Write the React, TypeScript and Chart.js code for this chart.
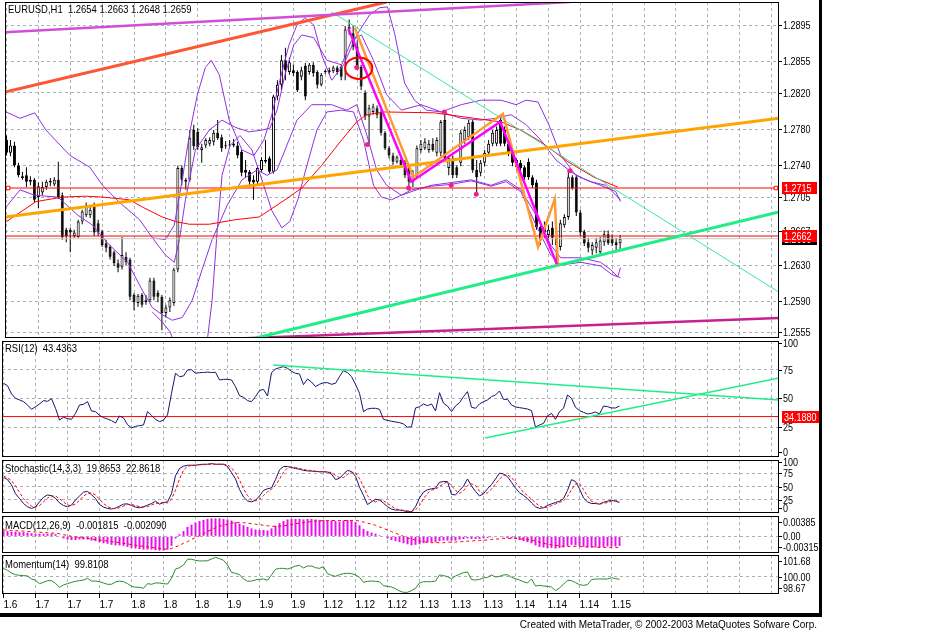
import React, { useEffect, useRef } from 'react';
import { Chart, registerables } from 'chart.js';

Chart.register(...registerables);

const FONT = '"Liberation Sans", Arial, sans-serif';
Chart.defaults.font.family = FONT;
Chart.defaults.font.size = 10;
Chart.defaults.color = '#000';

// ---------------- data ----------------
const X_LABELS = ['1.6', '1.7', '1.7', '1.7', '1.8', '1.8', '1.8', '1.9', '1.9', '1.9', '1.12', '1.12', '1.12', '1.13', '1.13', '1.13', '1.14', '1.14', '1.14', '1.15'];
const X_GRID_BARS = [0, 8, 16, 24, 32, 40, 48, 56, 64, 72, 80, 88, 96, 104, 112, 120, 128, 136, 144, 152, 160, 168, 176, 184, 192];

const OPEN = [1.2768, 1.2754, 1.2762, 1.2740, 1.2726, 1.2729, 1.2722, 1.2724, 1.2705, 1.2710,
  1.2716, 1.2721, 1.2719, 1.2724, 1.2707, 1.2669, 1.2669, 1.2662, 1.2661, 1.2678,
  1.2685, 1.2685, 1.2696, 1.2676, 1.2667, 1.2654, 1.2650, 1.2644, 1.2632, 1.2628,
  1.2639, 1.2636, 1.2597, 1.2588, 1.2597, 1.2591, 1.2591, 1.2613, 1.2599, 1.2595,
  1.2577, 1.2583, 1.2588, 1.2625, 1.2737, 1.2722, 1.2724, 1.2779, 1.2777, 1.2757,
  1.2762, 1.2764, 1.2766, 1.2776, 1.2771, 1.2762, 1.2762, 1.2762, 1.2762, 1.2755,
  1.2735, 1.2733, 1.2724, 1.2722, 1.2735, 1.2744, 1.2748, 1.2733, 1.2816, 1.2829,
  1.2856, 1.2843, 1.2845, 1.2843, 1.2838, 1.2850, 1.2843, 1.2851, 1.2843, 1.2829,
  1.2843, 1.2843, 1.2844, 1.2848, 1.2849, 1.2860, 1.2890, 1.2886, 1.2871, 1.2849,
  1.2820, 1.2794, 1.2799, 1.2803, 1.2799, 1.2776, 1.2759, 1.2751, 1.2744, 1.2746,
  1.2743, 1.2738, 1.2722, 1.2729, 1.2757, 1.2759, 1.2757, 1.2764, 1.2754, 1.2754,
  1.2790, 1.2737, 1.2748, 1.2738, 1.2743, 1.2768, 1.2771, 1.2788, 1.2735, 1.2732,
  1.2743, 1.2754, 1.2764, 1.2764, 1.2790, 1.2779, 1.2764, 1.2754, 1.2746, 1.2743,
  1.2738, 1.2744, 1.2727, 1.2721, 1.2672, 1.2672, 1.2663, 1.2671, 1.2660, 1.2650,
  1.2674, 1.2683, 1.2727, 1.2727, 1.2688, 1.2667, 1.2655, 1.2646, 1.2649, 1.2644,
  1.2655, 1.2664, 1.2660, 1.2655, 1.2654];
const HIGH = [1.2773, 1.2768, 1.2766, 1.2743, 1.2733, 1.2738, 1.2728, 1.2726, 1.2721, 1.2722,
  1.2724, 1.2726, 1.2727, 1.2744, 1.2710, 1.2671, 1.2671, 1.2669, 1.2680, 1.2691,
  1.2699, 1.2696, 1.2699, 1.2680, 1.2669, 1.2658, 1.2652, 1.2646, 1.2636, 1.2661,
  1.2644, 1.2638, 1.2599, 1.2598, 1.2599, 1.2597, 1.2616, 1.2616, 1.2602, 1.2597,
  1.2586, 1.2594, 1.2627, 1.2740, 1.2740, 1.2726, 1.2779, 1.2785, 1.2781, 1.2764,
  1.2770, 1.2771, 1.2779, 1.2790, 1.2774, 1.2767, 1.2768, 1.2769, 1.2766, 1.2757,
  1.2746, 1.2735, 1.2729, 1.2740, 1.2749, 1.2768, 1.2750, 1.2818, 1.2834, 1.2862,
  1.2870, 1.2859, 1.2851, 1.2845, 1.2849, 1.2853, 1.2853, 1.2854, 1.2845, 1.2842,
  1.2846, 1.2848, 1.2850, 1.2850, 1.2851, 1.2894, 1.2901, 1.2895, 1.2878, 1.2851,
  1.2823, 1.2807, 1.2808, 1.2806, 1.2801, 1.2778, 1.2761, 1.2754, 1.2751, 1.2748,
  1.2746, 1.2740, 1.2735, 1.2762, 1.2768, 1.2770, 1.2768, 1.2770, 1.2771, 1.2790,
  1.2800, 1.2751, 1.2751, 1.2740, 1.2779, 1.2783, 1.2790, 1.2790, 1.2746, 1.2746,
  1.2757, 1.2768, 1.2779, 1.2783, 1.2796, 1.2783, 1.2768, 1.2757, 1.2748, 1.2746,
  1.2740, 1.2748, 1.2729, 1.2724, 1.2674, 1.2678, 1.2674, 1.2678, 1.2669, 1.2680,
  1.2686, 1.2735, 1.2729, 1.2729, 1.2691, 1.2669, 1.2660, 1.2655, 1.2660, 1.2661,
  1.2668, 1.2668, 1.2664, 1.2660, 1.2663];
const LOW = [1.2751, 1.2750, 1.2738, 1.2727, 1.2724, 1.2716, 1.2718, 1.2699, 1.2693, 1.2707,
  1.2713, 1.2717, 1.2717, 1.2703, 1.2658, 1.2655, 1.2644, 1.2660, 1.2660, 1.2675,
  1.2683, 1.2682, 1.2662, 1.2662, 1.2650, 1.2644, 1.2636, 1.2629, 1.2622, 1.2625,
  1.2630, 1.2591, 1.2580, 1.2584, 1.2583, 1.2586, 1.2589, 1.2591, 1.2589, 1.2558,
  1.2572, 1.2578, 1.2585, 1.2622, 1.2718, 1.2713, 1.2722, 1.2757, 1.2757, 1.2743,
  1.2759, 1.2761, 1.2762, 1.2768, 1.2755, 1.2758, 1.2760, 1.2760, 1.2748, 1.2728,
  1.2727, 1.2718, 1.2702, 1.2719, 1.2733, 1.2742, 1.2731, 1.2731, 1.2812, 1.2823,
  1.2834, 1.2840, 1.2839, 1.2821, 1.2834, 1.2812, 1.2840, 1.2838, 1.2825, 1.2827,
  1.2841, 1.2841, 1.2842, 1.2840, 1.2834, 1.2834, 1.2884, 1.2867, 1.2845, 1.2823,
  1.2790, 1.2762, 1.2796, 1.2792, 1.2773, 1.2757, 1.2748, 1.2740, 1.2742, 1.2737,
  1.2726, 1.2716, 1.2716, 1.2726, 1.2754, 1.2757, 1.2754, 1.2755, 1.2750, 1.2750,
  1.2746, 1.2729, 1.2726, 1.2726, 1.2739, 1.2764, 1.2768, 1.2732, 1.2707, 1.2728,
  1.2739, 1.2750, 1.2761, 1.2761, 1.2761, 1.2761, 1.2750, 1.2739, 1.2735, 1.2733,
  1.2724, 1.2724, 1.2715, 1.2669, 1.2652, 1.2660, 1.2654, 1.2652, 1.2630, 1.2646,
  1.2671, 1.2680, 1.2713, 1.2684, 1.2662, 1.2651, 1.2644, 1.2641, 1.2643, 1.2642,
  1.2651, 1.2652, 1.2651, 1.2644, 1.2648];
const CLOSE = [1.2754, 1.2762, 1.2740, 1.2729, 1.2728, 1.2722, 1.2724, 1.2702, 1.2717, 1.2716,
  1.2722, 1.2723, 1.2724, 1.2705, 1.2661, 1.2662, 1.2666, 1.2666, 1.2678, 1.2689,
  1.2696, 1.2691, 1.2666, 1.2666, 1.2652, 1.2649, 1.2639, 1.2632, 1.2627, 1.2641,
  1.2633, 1.2595, 1.2589, 1.2596, 1.2586, 1.2589, 1.2613, 1.2595, 1.2595, 1.2577,
  1.2583, 1.2591, 1.2625, 1.2737, 1.2724, 1.2724, 1.2770, 1.2761, 1.2760, 1.2760,
  1.2768, 1.2768, 1.2776, 1.2770, 1.2759, 1.2761, 1.2763, 1.2764, 1.2751, 1.2732,
  1.2732, 1.2722, 1.2721, 1.2737, 1.2746, 1.2746, 1.2733, 1.2816, 1.2829, 1.2856,
  1.2845, 1.2854, 1.2842, 1.2823, 1.2845, 1.2816, 1.2851, 1.2842, 1.2829, 1.2840,
  1.2844, 1.2845, 1.2848, 1.2843, 1.2838, 1.2890, 1.2893, 1.2871, 1.2849, 1.2827,
  1.2794, 1.2803, 1.2805, 1.2796, 1.2776, 1.2759, 1.2751, 1.2744, 1.2749, 1.2739,
  1.2729, 1.2722, 1.2729, 1.2759, 1.2764, 1.2766, 1.2764, 1.2757, 1.2768, 1.2788,
  1.2748, 1.2748, 1.2729, 1.2729, 1.2776, 1.2779, 1.2787, 1.2735, 1.2727, 1.2743,
  1.2754, 1.2764, 1.2776, 1.2779, 1.2764, 1.2764, 1.2754, 1.2743, 1.2738, 1.2737,
  1.2727, 1.2727, 1.2718, 1.2672, 1.2658, 1.2666, 1.2669, 1.2660, 1.2652, 1.2676,
  1.2683, 1.2727, 1.2715, 1.2688, 1.2666, 1.2654, 1.2649, 1.2652, 1.2655, 1.2657,
  1.2664, 1.2654, 1.2654, 1.2652, 1.2659];

const PRICE_TICKS = [1.2895, 1.2855, 1.2820, 1.2780, 1.2740, 1.2705, 1.2667, 1.2630, 1.2590, 1.2555];
const PRICE_LEVELS = [1.2715, 1.2662];
const BID = 1.2659;

// red moving average, read as [bar, price]
const MA_PTS = [[0, 1.2678], [7.4, 1.2700], [14.1, 1.2705], [19.9, 1.2706], [24.1, 1.2705], [30.9, 1.2702], [34.1, 1.2694], [39.1, 1.2683], [42.4, 1.2678], [45.9, 1.2675], [50.9, 1.2675], [57.4, 1.2680], [63.4, 1.2683], [69.9, 1.2702], [74.1, 1.2715], [75.9, 1.2724], [79.1, 1.2740], [84.1, 1.2768], [87.9, 1.2788], [90.4, 1.2796], [94.9, 1.2799], [107.4, 1.2798], [117.4, 1.2792], [124.1, 1.2788], [129.1, 1.2779], [134.1, 1.2766], [140.9, 1.2744], [147.4, 1.2727], [153.4, 1.2716]];

// purple band lines, read as [bar, price]
const BAND_UP = [[-0.1, 1.2799], [3.4, 1.2792], [7.1, 1.2798], [9.9, 1.2779], [15.9, 1.2751], [20.9, 1.2738], [24.1, 1.2718], [28.4, 1.2699], [33.4, 1.2680], [36.6, 1.2660], [39.9, 1.2641], [42.1, 1.2633], [43.4, 1.2658], [44.9, 1.2702], [47.4, 1.2757], [50.9, 1.2779], [54.1, 1.2790], [57.4, 1.2782], [60.9, 1.2777], [64.1, 1.2779], [66.1, 1.2781], [67.9, 1.2801], [69.9, 1.2840], [72.1, 1.2873], [74.1, 1.2884], [77.1, 1.2881], [80.4, 1.2856], [84.1, 1.2851], [86.6, 1.2878], [89.1, 1.2884], [92.1, 1.2856], [95.4, 1.2818], [99.1, 1.2801], [104.1, 1.2807], [109.1, 1.2799], [114.1, 1.2792], [119.1, 1.2790], [122.9, 1.2792], [126.6, 1.2796], [130.4, 1.2785], [134.1, 1.2768], [137.9, 1.2746], [141.6, 1.2733], [145.4, 1.2724], [149.1, 1.2718], [152.9, 1.2711], [154.1, 1.2700]];
const BAND_LOW = [[-0.1, 1.2694], [3.4, 1.2713], [7.1, 1.2707], [12.9, 1.2705], [17.9, 1.2685], [21.6, 1.2674], [25.4, 1.2654], [30.4, 1.2633], [34.1, 1.2602], [36.6, 1.2583], [39.1, 1.2575], [41.6, 1.2569], [44.1, 1.2572], [46.6, 1.2591], [49.1, 1.2625], [51.6, 1.2658], [55.4, 1.2696], [59.1, 1.2724], [62.9, 1.2735], [65.4, 1.2729], [67.9, 1.2735], [69.9, 1.2757], [72.9, 1.2790], [76.6, 1.2807], [81.6, 1.2807], [85.4, 1.2801], [87.9, 1.2807], [90.4, 1.2774], [92.9, 1.2735], [95.4, 1.2718], [99.1, 1.2707], [102.9, 1.2713], [106.6, 1.2718], [111.6, 1.2721], [116.6, 1.2724], [121.6, 1.2718], [125.4, 1.2724], [129.1, 1.2713], [132.9, 1.2685], [136.6, 1.2652], [139.1, 1.2638], [144.1, 1.2638], [149.1, 1.2633], [151.6, 1.2625], [153.4, 1.2617], [154.1, 1.2627]];
const WIDE_UP = [[36.6, 1.2660], [39.9, 1.2658], [42.1, 1.2674], [44.1, 1.2724], [46.1, 1.2779], [47.9, 1.2818], [49.9, 1.2848], [51.4, 1.2856], [53.4, 1.2840], [55.9, 1.2790], [59.1, 1.2757], [62.1, 1.2751], [64.6, 1.2768], [66.6, 1.2796], [68.6, 1.2834], [70.9, 1.2873], [72.9, 1.2895], [74.9, 1.2903], [77.1, 1.2895], [79.1, 1.2862], [81.6, 1.2834], [84.6, 1.2851], [87.9, 1.2884], [91.1, 1.2906], [93.6, 1.2914], [95.6, 1.2915], [97.4, 1.2886], [99.9, 1.2831], [102.4, 1.2812], [105.4, 1.2801], [109.1, 1.2799], [114.1, 1.2807], [119.1, 1.2812], [124.1, 1.2812], [127.9, 1.2807], [130.4, 1.2812], [133.4, 1.2810], [136.1, 1.2785], [139.1, 1.2751], [142.9, 1.2729], [146.6, 1.2722], [150.4, 1.2718], [154.1, 1.2702]];
const WIDE_LOW = [[36.6, 1.2578], [39.1, 1.2567], [41.1, 1.2556], [42.6, 1.2536], [50.1, 1.2536], [51.6, 1.2591], [52.9, 1.2669], [54.1, 1.2729], [56.1, 1.2762], [58.6, 1.2773], [61.6, 1.2757], [64.1, 1.2724], [66.6, 1.2690], [69.1, 1.2671], [71.1, 1.2678], [73.1, 1.2702], [75.4, 1.2740], [77.9, 1.2779], [80.4, 1.2799], [84.1, 1.2801], [87.1, 1.2799], [89.6, 1.2768], [92.1, 1.2718], [94.1, 1.2705], [96.6, 1.2702], [99.1, 1.2707], [101.6, 1.2713], [106.6, 1.2717], [111.6, 1.2719], [116.6, 1.2723], [121.6, 1.2717], [125.4, 1.2722], [129.1, 1.2711], [132.9, 1.2674], [136.6, 1.2641], [139.1, 1.2630], [144.1, 1.2633], [149.1, 1.2629], [152.1, 1.2619], [154.1, 1.2616]];

// drawn objects, [bar, price]
const TL_VIOLET = [[-0.375, 1.2887], [141.4, 1.29204]];
const TL_TOMATO = [[-0.375, 1.2821], [95.4, 1.29204]];
const TL_ORANGE = [[-0.375, 1.2683], [193.875, 1.2792]];
const TL_GREEN = [[62.6, 1.25494], [193.875, 1.26886]];
const TL_AQUA = [[81.6, 1.29094], [193.875, 1.2600]];
const TL_PLUM = [[54.9, 1.25483], [193.875, 1.25715]];
const ZZ_MAGENTA = [[85.8, 1.2891], [101.6, 1.2722], [123.9, 1.2788], [138.1, 1.2631]];
const ZZ_ORANGE = [[87.4, 1.2892], [102.1, 1.2727], [124.6, 1.2797], [133.4, 1.2650], [137.6, 1.2703], [138.4, 1.2630]];
const FRACTALS = [[87.9, 1.2848], [90.6, 1.2763], [100.9, 1.2715], [109.9, 1.2799], [111.6, 1.2718], [117.9, 1.2708], [141.4, 1.2734]];
const LEVEL_MARKS = [[0.4, 1.2715], [193.1, 1.2715]];
const ELLIPSE = { bar: 88.4, price: 1.28473, rBars: 3.4, rPrice: 0.00119 };

const RSI = [63.2, 61.1, 53.9, 50.1, 48.7, 47.2, 44.3, 40.5, 42.8, 45.2,
  48.1, 47.5, 49.8, 41.4, 31.2, 33.6, 32.4, 31.8, 37.0, 44.3,
  44.9, 47.2, 39.1, 38.5, 35.3, 33.3, 32.1, 30.7, 28.6, 34.7,
  33.0, 27.2, 24.3, 25.7, 26.3, 26.9, 38.5, 35.3, 31.8, 29.8,
  31.2, 35.6, 54.5, 71.9, 69.0, 69.5, 74.8, 75.0, 72.0, 72.4,
  72.6, 72.9, 72.6, 72.8, 66.1, 66.6, 66.6, 66.1, 60.3, 52.4,
  51.0, 48.1, 47.2, 51.6, 56.8, 57.9, 52.1, 72.4, 75.6, 76.8,
  77.7, 76.2, 73.6, 71.9, 71.3, 62.0, 66.9, 64.3, 60.3, 62.3,
  63.7, 63.7, 62.3, 63.2, 69.0, 74.2, 72.4, 69.0, 62.3, 54.5,
  38.5, 40.8, 41.4, 41.4, 40.5, 31.8, 30.9, 30.1, 29.5, 28.9,
  27.8, 24.9, 25.4, 41.7, 42.8, 45.2, 43.7, 45.2, 39.1, 55.0,
  45.8, 43.4, 38.5, 43.4, 46.3, 51.6, 55.9, 42.3, 41.4, 45.2,
  47.2, 48.7, 51.6, 53.0, 56.5, 49.2, 49.2, 44.3, 42.6, 42.0,
  41.4, 40.8, 39.4, 24.9, 26.9, 28.3, 34.7, 37.0, 31.8, 38.5,
  41.4, 53.0, 50.1, 42.3, 39.4, 37.9, 36.5, 37.0, 38.2, 36.5,
  43.4, 42.8, 41.7, 41.7, 43.4];
const RSI_LEVEL = 34.188;
const RSI_TL_DOWN = [[67.4, 79.1], [193.875, 48.6]];
const RSI_TL_UP = [[120.4, 15.5], [193.875, 67.8]];

const STOCH_K = [67.3, 63.0, 53.1, 36.4, 27.2, 17.9, 11.7, 8.6, 11.7, 21.0,
  29.6, 34.0, 32.7, 27.8, 19.1, 14.2, 11.7, 14.8, 24.7, 32.1,
  39.5, 40.7, 34.6, 27.2, 16.0, 11.1, 8.6, 7.4, 9.3, 13.0,
  16.7, 17.3, 14.2, 11.1, 9.9, 11.7, 14.8, 17.9, 22.2, 16.7,
  19.8, 21.0, 36.4, 70.4, 84.0, 88.3, 90.1, 90.1, 90.1, 91.4,
  92.0, 92.0, 93.2, 92.0, 92.0, 92.0, 87.7, 76.5, 64.2, 44.4,
  30.2, 22.8, 21.0, 24.1, 32.1, 42.6, 45.7, 47.5, 63.0, 81.5,
  87.7, 87.7, 85.8, 84.0, 82.7, 80.5, 79.5, 79.0, 78.4, 77.8,
  77.8, 77.2, 73.5, 63.0, 65.4, 73.5, 80.2, 78.4, 69.1, 48.8,
  33.3, 16.0, 21.0, 25.9, 24.7, 18.5, 11.7, 7.4, 5.6, 5.6,
  4.3, 2.5, 2.5, 11.7, 28.4, 39.5, 43.8, 45.7, 46.9, 58.0,
  59.3, 59.3, 35.2, 34.0, 42.6, 50.6, 64.2, 51.2, 40.7, 32.1,
  36.4, 45.7, 53.7, 64.2, 75.3, 73.5, 68.5, 58.0, 46.9, 38.3,
  33.3, 27.2, 19.1, 11.7, 8.6, 9.9, 14.2, 17.3, 19.8, 22.2,
  27.2, 42.6, 63.0, 59.3, 45.7, 28.4, 21.0, 17.9, 17.9, 16.7,
  20.4, 22.2, 24.1, 22.2, 19.9];
const STOCH_D = [70, 66, 61, 51, 39, 27, 19, 13, 11, 14,
  21, 28, 32, 32, 27, 21, 15, 14, 17, 24,
  32, 37, 38, 34, 26, 18, 12, 9, 8, 10,
  13, 16, 16, 14, 12, 11, 12, 15, 18, 19,
  20, 19, 26, 43, 64, 81, 88, 90, 90, 91,
  91, 92, 92, 92, 92, 92, 91, 85, 76, 62,
  46, 33, 25, 23, 26, 33, 40, 45, 52, 64,
  77, 85, 87, 86, 84, 82, 81, 80, 79, 78,
  78, 78, 76, 71, 67, 67, 73, 77, 76, 65,
  50, 33, 23, 21, 24, 23, 18, 13, 8, 6,
  5, 4, 3, 6, 14, 27, 37, 43, 45, 50,
  55, 59, 51, 43, 37, 42, 52, 55, 52, 41,
  36, 38, 45, 55, 64, 71, 72, 67, 58, 48,
  39, 33, 26, 19, 13, 10, 11, 14, 17, 20,
  23, 31, 44, 55, 56, 44, 32, 22, 19, 17,
  18, 20, 22, 23, 22.9];

const MACD_MAIN = [0.0010, 0.0010, 0.0009, 0.0009, 0.0008, 0.0008, 0.0007, 0.0006, 0.0005, 0.0005,
  0.0005, 0.0005, 0.0005, 0.0004, 0.0000, -0.0004, -0.0006, -0.0007, -0.0007, -0.0006,
  -0.0006, -0.0006, -0.0008, -0.0009, -0.0011, -0.0013, -0.0014, -0.0016, -0.0017, -0.0017,
  -0.0018, -0.0020, -0.0022, -0.0023, -0.0024, -0.0025, -0.0025, -0.0025, -0.0026, -0.0027,
  -0.0027, -0.0025, -0.0018, -0.0004, 0.0004, 0.0010, 0.0018, 0.0022, 0.0026, 0.0029,
  0.0031, 0.0033, 0.0034, 0.0034, 0.0034, 0.0033, 0.0032, 0.0030, 0.0027, 0.0024,
  0.0021, 0.0018, 0.0015, 0.0013, 0.0012, 0.0012, 0.0011, 0.0015, 0.0020, 0.0025,
  0.0029, 0.0032, 0.0033, 0.0033, 0.0033, 0.0032, 0.0033, 0.0033, 0.0032, 0.0031,
  0.0031, 0.0030, 0.0030, 0.0029, 0.0028, 0.0030, 0.0031, 0.0030, 0.0027, 0.0021,
  0.0014, 0.0010, 0.0007, 0.0005, 0.0002, -0.0001, -0.0004, -0.0007, -0.0009, -0.0011,
  -0.0013, -0.0015, -0.0017, -0.0016, -0.0015, -0.0013, -0.0012, -0.0011, -0.0011, -0.0009,
  -0.0008, -0.0008, -0.0008, -0.0008, -0.0006, -0.0005, -0.0004, -0.0005, -0.0005, -0.0005,
  -0.0004, -0.0003, -0.0002, -0.0001, 0.0000, -0.0002, -0.0003, -0.0004, -0.0005, -0.0007,
  -0.0009, -0.0011, -0.0013, -0.0017, -0.0020, -0.0021, -0.0022, -0.0022, -0.0023, -0.0022,
  -0.0021, -0.0018, -0.0016, -0.0017, -0.0018, -0.0020, -0.0021, -0.0021, -0.0021, -0.0021,
  -0.0020, -0.0019, -0.0019, -0.0019, -0.001815];
const MACD_SIGNAL = [0.0012, 0.0012, 0.0011, 0.0011, 0.0010, 0.0010, 0.0009, 0.0009, 0.0008, 0.0008,
  0.0007, 0.0007, 0.0006, 0.0006, 0.0005, 0.0003, 0.0002, 0.0000, -0.0001, -0.0002,
  -0.0003, -0.0004, -0.0005, -0.0006, -0.0007, -0.0008, -0.0009, -0.0010, -0.0011, -0.0012,
  -0.0013, -0.0014, -0.0016, -0.0017, -0.0018, -0.0019, -0.0020, -0.0021, -0.0022, -0.0023,
  -0.0024, -0.0024, -0.0023, -0.0020, -0.0017, -0.0013, -0.0010, -0.0006, -0.0002, 0.0001,
  0.0005, 0.0009, 0.0013, 0.0016, 0.0019, 0.0021, 0.0023, 0.0025, 0.0026, 0.0026,
  0.0026, 0.0025, 0.0024, 0.0023, 0.0022, 0.0021, 0.0020, 0.0019, 0.0019, 0.0019,
  0.0020, 0.0021, 0.0022, 0.0024, 0.0025, 0.0026, 0.0027, 0.0028, 0.0029, 0.0029,
  0.0030, 0.0030, 0.0030, 0.0030, 0.0030, 0.0030, 0.0030, 0.0030, 0.0030, 0.0029,
  0.0027, 0.0025, 0.0023, 0.0021, 0.0018, 0.0015, 0.0012, 0.0009, 0.0006, 0.0003,
  0.0000, -0.0003, -0.0005, -0.0007, -0.0009, -0.0010, -0.0011, -0.0012, -0.0012, -0.0012,
  -0.0012, -0.0011, -0.0011, -0.0011, -0.0010, -0.0010, -0.0009, -0.0009, -0.0008, -0.0008,
  -0.0007, -0.0007, -0.0006, -0.0005, -0.0005, -0.0004, -0.0004, -0.0004, -0.0004, -0.0005,
  -0.0005, -0.0006, -0.0007, -0.0009, -0.0011, -0.0013, -0.0015, -0.0016, -0.0017, -0.0018,
  -0.0019, -0.0019, -0.0019, -0.0019, -0.0019, -0.0020, -0.0020, -0.0020, -0.0020, -0.0021,
  -0.0021, -0.0021, -0.0021, -0.0021, -0.00209];

const MOMENTUM = [100.65, 100.50, 100.29, 100.16, 100.11, 100.09, 100.06, 99.83, 99.73, 99.47,
  99.57, 99.70, 99.70, 99.49, 99.19, 99.37, 99.47, 99.57, 99.65, 99.70,
  99.75, 99.88, 99.67, 99.67, 99.62, 99.52, 99.42, 99.42, 99.60, 99.67,
  99.62, 99.47, 99.26, 99.19, 99.19, 99.11, 99.47, 99.42, 99.52, 99.52,
  99.47, 99.44, 99.88, 100.60, 100.70, 100.91, 101.35, 101.35, 101.27, 101.22,
  101.22, 101.24, 101.37, 101.50, 101.40, 101.27, 100.91, 100.34, 100.27, 100.16,
  99.83, 99.65, 99.67, 99.75, 99.80, 99.83, 99.73, 100.14, 100.57, 100.65,
  100.65, 100.60, 100.70, 100.83, 100.88, 100.68, 100.83, 100.83, 100.70, 100.65,
  100.78, 100.24, 100.11, 100.03, 100.16, 100.24, 100.27, 100.24, 100.14, 99.96,
  99.57, 99.65, 99.67, 99.65, 99.62, 99.31, 99.26, 99.21, 99.08, 98.90,
  98.80, 98.80, 98.93, 99.11, 99.52, 99.62, 99.62, 99.62, 99.67, 100.14,
  100.09, 100.01, 99.85, 100.06, 100.19, 100.32, 100.37, 99.78, 99.75, 99.80,
  99.91, 99.96, 100.14, 99.98, 100.03, 100.14, 100.16, 99.96, 99.85, 99.75,
  99.62, 99.52, 99.83, 99.29, 99.34, 99.29, 99.26, 99.21, 98.93, 99.14,
  99.42, 99.73, 99.70, 99.55, 99.39, 99.34, 99.39, 99.78, 99.83, 99.83,
  99.83, 99.83, 99.93, 99.85, 99.81];

// ---------------- layout / helpers ----------------
const PAGE_W = 929;
const PAD = 10;
const AXIS_W = 150;
const X_AXIS_H = 22;
const X_MIN = -0.375;
const X_MAX = 193.875;
const GRID = '#a9b0b8';
const BAND = '#9030e0';
const LABEL_SQUEEZE = 0.82;
const CAPTION_SQUEEZE = 0.86;

const pts = (a: number[][]) => a.map(([x, y]) => ({ x, y }));
const series = (a: number[]) => a.map((y, x) => ({ x, y }));
const hline = (v: number) => [{ x: X_MIN, y: v }, { x: X_MAX, y: v }];

function lineDs(data: any[], color: string, width: number, order: number, dash: number[] = []) {
  return { type: 'line', data, borderColor: color, backgroundColor: color, borderWidth: width, pointRadius: 0, fill: false, tension: 0, order, borderDash: dash };
}

function squeezedText(ctx: any, t: string, x: number, y: number, k: number) {
  ctx.save();
  ctx.translate(x, y);
  ctx.scale(k, 1);
  ctx.fillText(t, 0, 0);
  ctx.restore();
}

function xAxis(showLabels: boolean) {
  return {
    type: 'linear', min: X_MIN, max: X_MAX, offset: false,
    afterBuildTicks: (s: any) => { s.ticks = X_GRID_BARS.map((v) => ({ value: v })); },
    afterFit: (s: any) => { s.height = showLabels ? X_AXIS_H : 0; },
    grid: {
      offset: false, color: GRID, lineWidth: 1, drawTicks: showLabels, tickLength: 4, tickWidth: 1, tickBorderDash: [],
      tickColor: (c: any) => (c.tick && c.tick.value <= 152 ? '#000' : 'rgba(0,0,0,0)'),
    },
    border: { display: false, dash: [3, 3] },
    ticks: {
      display: showLabels, autoSkip: false, maxRotation: 0, minRotation: 0, align: 'start', padding: 1, color: '#000',
      font: { family: FONT, size: 10 },
      callback: (v: number) => { const i = v / 8; return Number.isInteger(i) && i < X_LABELS.length ? X_LABELS[i] : ''; },
    },
  };
}

function yAxis(min: number, max: number, grid: number[]) {
  return {
    type: 'linear', position: 'right', min, max,
    afterBuildTicks: (s: any) => { s.ticks = grid.map((v) => ({ value: v })); },
    afterFit: (s: any) => { s.width = AXIS_W; },
    grid: { color: GRID, lineWidth: 1, drawTicks: false },
    border: { display: false, dash: [3, 3] },
    ticks: { display: false },
  };
}

function priceBox(ctx: any, a: any, y: number, text: string, bg: string, w: number) {
  const py = Math.round(y);
  ctx.fillStyle = bg;
  ctx.fillRect(a.right + 3, py - 6, w, 12);
  ctx.fillStyle = '#fff';
  squeezedText(ctx, text, a.right + 5, py + 0.5, LABEL_SQUEEZE);
}

function panelPlugin(o: { caption: string; capDy: number; labels: { v: number; t: string }[]; mt: number; mb: number; extra?: (chart: any) => void }) {
  return {
    id: 'mtPanel',
    afterDraw(chart: any) {
      const { ctx, chartArea: a } = chart;
      const ys = chart.scales.y;
      ctx.save();
      ctx.setLineDash([]);
      ctx.strokeStyle = '#000';
      ctx.lineWidth = 1;
      ctx.strokeRect(a.left + 0.5, a.top + 0.5, a.right - a.left - 1, a.bottom - a.top - 1);
      ctx.font = `11px ${FONT}`;
      ctx.textBaseline = 'middle';
      ctx.textAlign = 'left';
      ctx.fillStyle = '#000';
      for (const l of o.labels) {
        let py = Math.round(ys.getPixelForValue(l.v));
        py = Math.min(Math.max(py, a.top + o.mt), a.bottom - o.mb);
        ctx.beginPath();
        ctx.moveTo(a.right, py + 0.5);
        ctx.lineTo(a.right + 3, py + 0.5);
        ctx.stroke();
        squeezedText(ctx, l.t, a.right + 4, py + 0.5, LABEL_SQUEEZE);
      }
      ctx.fillStyle = '#000';
      squeezedText(ctx, o.caption, a.left + 3, a.top + o.capDy, CAPTION_SQUEEZE);
      if (o.extra) o.extra(chart);
      ctx.restore();
    },
  };
}

function baseOptions(min: number, max: number, grid: number[], showX: boolean) {
  return {
    animation: false, responsive: false, maintainAspectRatio: false, devicePixelRatio: 1, events: [],
    layout: { padding: { top: PAD, bottom: showX ? 0 : PAD, left: 2, right: 0 } },
    plugins: { legend: { display: false }, tooltip: { enabled: false }, title: { display: false } },
    scales: { x: xAxis(showX), y: yAxis(min, max, grid) },
  };
}

const barCommon = { grouped: false, categoryPercentage: 1, barPercentage: 1, inflateAmount: 0, borderSkipped: false };

// ---------------- panels ----------------
const PANELS = [
  { top: 2, bottom: 338 },
  { top: 341, bottom: 457 },
  { top: 460, bottom: 513 },
  { top: 516, bottom: 553 },
  { top: 555, bottom: 594 },
];

function buildConfigs() {
  const mainExtra = (chart: any) => {
    const { ctx, chartArea: a } = chart;
    const xs = chart.scales.x;
    const ys = chart.scales.y;
    const cx = xs.getPixelForValue(ELLIPSE.bar);
    const cy = ys.getPixelForValue(ELLIPSE.price);
    const rx = Math.abs(xs.getPixelForValue(ELLIPSE.bar + ELLIPSE.rBars) - cx);
    const ry = Math.abs(ys.getPixelForValue(ELLIPSE.price + ELLIPSE.rPrice) - cy);
    ctx.beginPath();
    ctx.ellipse(cx, cy, rx, ry, 0, 0, Math.PI * 2);
    ctx.strokeStyle = '#ff0000';
    ctx.lineWidth = 2;
    ctx.stroke();
    ctx.lineWidth = 1;
    priceBox(ctx, a, ys.getPixelForValue(BID), BID.toFixed(4), '#000', 35);
    priceBox(ctx, a, ys.getPixelForValue(PRICE_LEVELS[1]), PRICE_LEVELS[1].toFixed(4), '#ff0000', 35);
    priceBox(ctx, a, ys.getPixelForValue(PRICE_LEVELS[0]), PRICE_LEVELS[0].toFixed(4), '#ff0000', 35);
  };

  const main = {
    type: 'bar',
    data: {
      datasets: [
        { type: 'scatter', data: pts(FRACTALS), pointRadius: 2.5, pointBackgroundColor: '#f0208c', pointBorderWidth: 0, order: 1 },
        { type: 'scatter', data: pts(LEVEL_MARKS), pointStyle: 'rect', pointRadius: 2.5, pointBackgroundColor: '#fff', pointBorderColor: '#ff0000', pointBorderWidth: 1, order: 1 },
        lineDs(pts(ZZ_MAGENTA), '#ff00ff', 2.5, 2),
        lineDs(pts(ZZ_ORANGE), '#ff9933', 2.5, 3),
        lineDs(pts(TL_VIOLET), '#d14fd6', 2.5, 4),
        lineDs(pts(TL_TOMATO), '#ff5533', 3, 4),
        lineDs(pts(TL_ORANGE), '#ffa500', 3, 4),
        lineDs(pts(TL_GREEN), '#1fee88', 3, 4),
        lineDs(pts(TL_AQUA), '#3ce6a0', 1, 4),
        lineDs(pts(TL_PLUM), '#c8208e', 2.5, 4),
        lineDs(hline(PRICE_LEVELS[0]), '#ff0000', 1, 5),
        lineDs(hline(PRICE_LEVELS[1]), '#ff0000', 1, 5),
        lineDs(hline(BID), '#c8c8c8', 1, 6),
        lineDs(pts(MA_PTS), '#ff0000', 1, 7),
        lineDs(pts(BAND_UP), BAND, 1, 8),
        lineDs(pts(BAND_LOW), BAND, 1, 8),
        lineDs(pts(WIDE_UP), BAND, 1, 8),
        lineDs(pts(WIDE_LOW), BAND, 1, 8),
        {
          type: 'bar', data: OPEN.map((o, i) => ({ x: i, y: [o, CLOSE[i]] })),
          backgroundColor: OPEN.map((o, i) => (CLOSE[i] >= o ? '#ffffff' : '#000000')),
          borderColor: '#000', borderWidth: 1, maxBarThickness: 3, minBarLength: 1, order: 20, ...barCommon,
        },
        {
          type: 'bar', data: HIGH.map((h, i) => ({ x: i, y: [LOW[i], h] })),
          backgroundColor: '#000', borderWidth: 0, maxBarThickness: 1, order: 21, ...barCommon,
        },
      ],
    },
    options: baseOptions(1.25494, 1.29204, PRICE_TICKS, false),
    plugins: [panelPlugin({
      caption: 'EURUSD,H1  1.2654 1.2663 1.2648 1.2659', capDy: 8,
      labels: PRICE_TICKS.map((v) => ({ v, t: v.toFixed(4) })), mt: 6, mb: 6, extra: mainExtra,
    })],
  };

  const rsi = {
    type: 'line',
    data: {
      datasets: [
        lineDs(pts(RSI_TL_DOWN), '#1fee88', 1.5, 1),
        lineDs(pts(RSI_TL_UP), '#1fee88', 1.5, 1),
        lineDs(series(RSI), '#141470', 1, 2),
        lineDs(hline(RSI_LEVEL), '#ff0000', 1, 3),
      ],
    },
    options: baseOptions(-1, 100, [25, 50, 75], false),
    plugins: [panelPlugin({
      caption: 'RSI(12)  43.4363', capDy: 8,
      labels: [100, 75, 50, 25, 0].map((v) => ({ v, t: String(v) })), mt: 2, mb: 5,
      extra: (chart: any) => { priceBox(chart.ctx, chart.chartArea, chart.scales.y.getPixelForValue(RSI_LEVEL), '34.1880', '#ff0000', 38); },
    })],
  };

  const stoch = {
    type: 'line',
    data: {
      datasets: [
        lineDs(series(STOCH_K), '#141470', 1, 2),
        lineDs(series(STOCH_D), '#ff0000', 1, 1, [3, 2]),
      ],
    },
    options: baseOptions(0, 100, [25, 50, 75], false),
    plugins: [panelPlugin({
      caption: 'Stochastic(14,3,3)  19.8653  22.8618', capDy: 9,
      labels: [100, 75, 50, 25, 0].map((v) => ({ v, t: String(v) })), mt: 2, mb: 5,
    })],
  };

  const macd = {
    type: 'bar',
    data: {
      datasets: [
        lineDs(series(MACD_SIGNAL), '#ff0000', 1, 1, [3, 3]),
        { type: 'bar', data: series(MACD_MAIN), backgroundColor: '#e810e8', borderWidth: 0, maxBarThickness: 2, order: 2, ...barCommon },
      ],
    },
    options: baseOptions(-0.00315, 0.00385, [0], false),
    plugins: [panelPlugin({
      caption: 'MACD(12,26,9)  -0.001815  -0.002090', capDy: 10,
      labels: [{ v: 0.00385, t: '0.00385' }, { v: 0, t: '0.00' }, { v: -0.00315, t: '-0.00315' }], mt: 6, mb: 6,
    })],
  };

  const mom = {
    type: 'line',
    data: { datasets: [lineDs(series(MOMENTUM), '#2a8a2a', 1, 1)] },
    options: baseOptions(98.67, 101.68, [100], true),
    plugins: [panelPlugin({
      caption: 'Momentum(14)  99.8108', capDy: 9.5,
      labels: [{ v: 101.68, t: '101.68' }, { v: 100, t: '100.00' }, { v: 98.67, t: '98.67' }], mt: 6, mb: 6,
    })],
  };

  return [main, rsi, stoch, macd, mom];
}

export default function App() {
  const r0 = useRef<HTMLCanvasElement>(null);
  const r1 = useRef<HTMLCanvasElement>(null);
  const r2 = useRef<HTMLCanvasElement>(null);
  const r3 = useRef<HTMLCanvasElement>(null);
  const r4 = useRef<HTMLCanvasElement>(null);
  const refs = [r0, r1, r2, r3, r4];

  useEffect(() => {
    const configs = buildConfigs();
    const charts = configs.map((cfg, i) => new Chart(refs[i].current as HTMLCanvasElement, cfg as any));
    return () => charts.forEach((c) => c.destroy());
  }, []);

  return (
    <div style={{ position: 'absolute', left: 0, top: 0, width: PAGE_W, height: 633, background: '#fff', overflow: 'hidden' }}>
      {PANELS.map((p, i) => {
        const last = i === PANELS.length - 1;
        const h = p.bottom - p.top + PAD + (last ? X_AXIS_H : PAD);
        return (
          <canvas key={i} ref={refs[i]} width={PAGE_W} height={h}
            style={{ position: 'absolute', left: 0, top: p.top - PAD, width: PAGE_W, height: h }} />
        );
      })}
      <div style={{ position: 'absolute', left: 819, top: 0, width: 3, height: 617, background: '#000' }} />
      <div style={{ position: 'absolute', left: 0, top: 613, width: 822, height: 4, background: '#000' }} />
      <div style={{ position: 'absolute', right: PAGE_W - 817, top: 619, font: `10px ${FONT}`, lineHeight: '12px', whiteSpace: 'nowrap', color: '#000' }}>
        Created with MetaTrader, © 2002-2003 MetaQuotes Sofware Corp.
      </div>
    </div>
  );
}
